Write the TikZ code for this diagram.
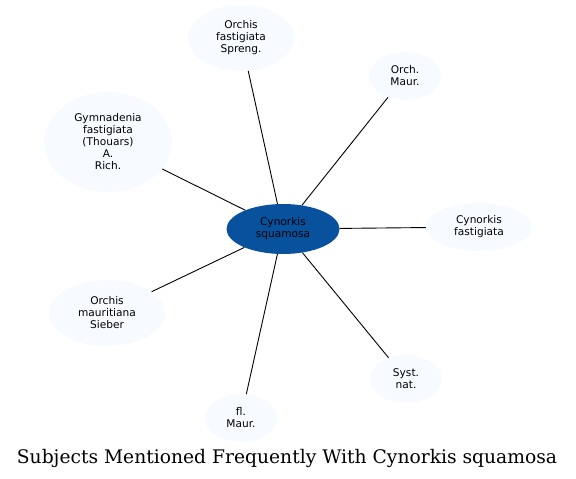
\documentclass[tikz,border=0pt]{standalone}
\usepackage{fontspec}
\setmainfont{DejaVu Serif}
\newfontfamily\nodefont{DejaVu Sans}
\usetikzlibrary{shapes.geometric}
\definecolor{outerfill}{HTML}{F7FBFF}
\definecolor{centerfill}{HTML}{08519C}
\tikzset{
  leaf/.style={ellipse, fill=outerfill, draw=none, inner sep=0pt, align=center,
    font=\nodefont\fontsize{10.6}{12}\selectfont},
  hub/.style={ellipse, fill=centerfill, draw=none, inner sep=0pt, align=center,
    font=\nodefont\fontsize{10.6}{12}\selectfont, text=black},
  link/.style={draw=black, line width=0.9pt}
}
\begin{document}
\begin{tikzpicture}[x=1pt,y=-1pt]
\useasboundingbox (0,0) rectangle (576,479);
\node[hub, minimum width=113, minimum height=50] (c) at (283,229) {Cynorkis\\squamosa};
\node[leaf, minimum width=106, minimum height=66] (ofs) at (241,38) {Orchis\\fastigiata\\Spreng.};
\node[leaf, minimum width=72, minimum height=48] (om) at (405,76) {Orch.\\Maur.};
\node[leaf, minimum width=128, minimum height=100] (gf) at (108,142) {Gymnadenia\\fastigiata\\(Thouars)\\A.\\Rich.};
\node[leaf, minimum width=106, minimum height=48] (cf) at (479,227) {Cynorkis\\fastigiata};
\node[leaf, minimum width=116, minimum height=66] (oms) at (107,313) {Orchis\\mauritiana\\Sieber};
\node[leaf, minimum width=72, minimum height=48] (sn) at (406,379) {Syst.\\nat.};
\node[leaf, minimum width=72, minimum height=48] (fm) at (241,418) {fl.\\Maur.};
\foreach \n in {ofs,om,gf,cf,oms,sn,fm} \draw[link] (c) -- (\n);
\node[font=\fontsize{18.7}{22}\selectfont] (title) at (287,458) {Subjects Mentioned Frequently With Cynorkis squamosa};
\end{tikzpicture}
\end{document}
